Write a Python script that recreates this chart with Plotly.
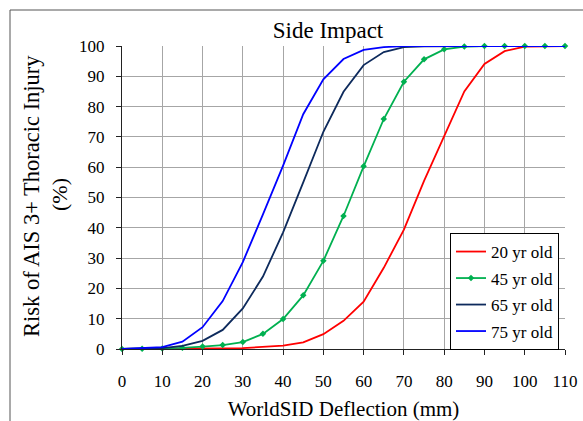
import plotly.graph_objects as go

deflection = [0, 5, 10, 15, 20, 25, 30, 35, 40, 45, 50, 55, 60, 65, 70, 75, 80, 85, 90, 95, 100, 105, 110]
risk_20 = [0, 0, 0, 0, 0.1, 0.2, 0.3, 0.6, 1.1, 2.2, 4.9, 9.3, 15.6, 26.8, 39.4, 55.5, 70.5, 85.0, 94.1, 98.3, 99.8, 100, 100]
risk_45 = [0, 0.1, 0.2, 0.4, 0.8, 1.3, 2.3, 5.0, 9.9, 17.7, 29.1, 43.9, 60.3, 75.9, 88.2, 95.6, 98.9, 99.8, 100, 100, 100, 100, 100]
risk_65 = [0, 0.1, 0.3, 1.0, 2.7, 6.3, 13.4, 23.9, 38.5, 55.0, 71.7, 84.9, 93.7, 98.0, 99.6, 99.9, 100, 100, 100, 100, 100, 100, 100]
risk_75 = [0, 0.2, 0.6, 2.4, 7.2, 15.8, 28.7, 44.4, 60.5, 77.5, 89.0, 95.7, 98.7, 99.6, 100, 100, 100, 100, 100, 100, 100, 100, 100]
names = ["20 yr old", "45 yr old", "65 yr old", "75 yr old"]
x_ticks = list(range(0, 111, 10))
y_ticks = list(range(0, 101, 10))

FONT = "Liberation Serif"

fig = go.Figure()
fig.add_trace(go.Scatter(x=deflection, y=risk_20, name=names[0], mode="lines", legendgroup="a",
                         line=dict(color="#FF0000", width=1.8), cliponaxis=False))
fig.add_trace(go.Scatter(x=deflection, y=risk_45, name=names[1], mode="lines+markers", legendgroup="b",
                         line=dict(color="#00B050", width=1.8),
                         marker=dict(symbol="diamond", size=5, color="#00B050"), cliponaxis=False))
fig.add_trace(go.Scatter(x=deflection, y=risk_65, name=names[2], mode="lines", legendgroup="c",
                         line=dict(color="#0D2A5C", width=1.8), cliponaxis=False))
fig.add_trace(go.Scatter(x=deflection, y=risk_75, name=names[3], mode="lines", legendgroup="d",
                         line=dict(color="#0000FF", width=1.8), cliponaxis=False))

W, H = 583, 421
ml, mr, mt, mb = 122, 18, 46, 72
pw, ph = W - ml - mr, H - mt - mb

def px_x(p):
    return (p - ml) / pw

def px_y(p):
    return (H - mb - p) / ph

tick_font = dict(family=FONT, size=17, color="black")

fig.update_layout(
    width=W, height=H,
    margin=dict(l=ml, r=mr, t=mt, b=mb, autoexpand=False),
    paper_bgcolor="white", plot_bgcolor="white",
    font=dict(family=FONT, size=17, color="black"),
    title=dict(text="Side Impact", xref="container", x=328 / W, xanchor="center",
               y=1 - 30 / H, yanchor="middle", font=dict(family=FONT, size=23)),
    showlegend=True,
    legend=dict(x=px_x(559), xanchor="right", y=px_y(233), yanchor="top",
                bordercolor="black", borderwidth=1, bgcolor="white",
                font=dict(family=FONT, size=17), tracegroupgap=1.4),
    xaxis=dict(range=[0, 110], tickvals=x_ticks, showgrid=True, gridcolor="#A6A6A6", gridwidth=1,
               showline=True, linecolor="#222", linewidth=1, ticks="outside", ticklen=5,
               tickcolor="#222", ticklabelstandoff=12, zeroline=False, tickfont=tick_font,
               title=dict(text="WorldSID Deflection (mm)", font=dict(family=FONT, size=21), standoff=10)),
    yaxis=dict(range=[0, 100], tickvals=y_ticks, showgrid=True, gridcolor="#A6A6A6", gridwidth=1,
               showline=True, linecolor="#222", linewidth=1, ticks="outside", ticklen=5,
               tickcolor="#222", ticklabelstandoff=8, zeroline=False, tickfont=tick_font),
    annotations=[
        dict(text="Risk of AIS 3+ Thoracic Injury", xref="paper", yref="paper",
             x=px_x(31), y=px_y(196), textangle=-90, showarrow=False,
             xanchor="center", yanchor="middle", font=dict(family=FONT, size=22.5)),
        dict(text="(%)", xref="paper", yref="paper",
             x=px_x(59), y=px_y(195), textangle=-90, showarrow=False,
             xanchor="center", yanchor="middle", font=dict(family=FONT, size=22)),
    ],
    shapes=[dict(type="rect", xref="paper", yref="paper",
                 x0=px_x(10), x1=px_x(700), y0=px_y(600), y1=px_y(10),
                 line=dict(color="#555555", width=1), layer="below")],
)

fig.write_html("out.html", config={"displayModeBar": False},
               post_script="document.body.style.margin='0';document.body.style.overflow='hidden';")
